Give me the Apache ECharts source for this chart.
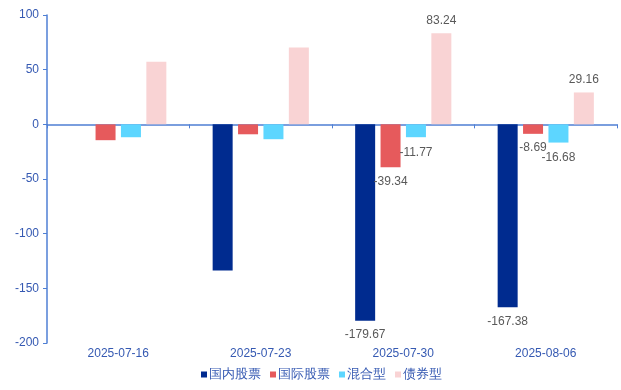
<!DOCTYPE html>
<html>
<head>
<meta charset="utf-8">
<script src="https://cdn.jsdelivr.net/npm/echarts@6/dist/echarts.min.js"></script>
<style>
html,body{margin:0;padding:0;background:#fff;}
#c{width:621px;height:390px;}
</style>
</head>
<body>
<div id="c"></div>
<script>
const categories = ['2025-07-16', '2025-07-23', '2025-07-30', '2025-08-06'];
const domesticStock = [0, -133.6, -179.67, -167.38];
const intlStock = [-14.5, -9.1, -39.34, -8.69];
const mixed = [-11.8, -13.6, -11.77, -16.68];
const bond = [57.3, 70.3, 83.24, 29.16];
const seriesNames = ['国内股票', '国际股票', '混合型', '债券型'];
const yTicks = { min: -200, max: 100, interval: 50 };
const labeledCategories = ['2025-07-30', '2025-08-06'];

const colors = ['#002B8F', '#E65A5C', '#5DD6FF', '#F9D3D4'];
const font = 'Liberation Sans, Arial, sans-serif';

function mk(name, data, color, pos, dist) {
  return {
    name: name,
    type: 'bar',
    data: data.map((v, i) => ({
      value: v,
      label: { show: labeledCategories.includes(categories[i]) }
    })),
    barWidth: 20,
    barGap: '27%',
    itemStyle: { color: color },
    label: {
      position: pos,
      distance: dist,
      color: '#595959',
      fontSize: 12,
      fontFamily: font,
      formatter: p => p.value.toFixed(2)
    }
  };
}

const chart = echarts.init(document.getElementById('c'), null, { renderer: 'canvas' });
chart.setOption({
  animation: false,
  backgroundColor: '#fff',
  grid: { left: 47, right: 4, top: 15, bottom: 47, containLabel: false },
  legend: {
    bottom: 4,
    left: 196,
    itemWidth: 6,
    itemHeight: 6,
    itemGap: 9,
    icon: 'rect',
    textStyle: { color: '#3559B2', fontSize: 13, fontFamily: font, padding: [0, 0, 0, -3] },
    data: seriesNames
  },
  xAxis: [
    {
      type: 'category',
      data: categories,
      position: 'bottom',
      axisLine: { onZero: true, lineStyle: { color: '#4F7FD4', width: 1.5 } },
      axisTick: { show: true, length: 4, lineStyle: { color: '#4F7FD4' } },
      axisLabel: { show: false }
    },
    {
      type: 'category',
      data: categories,
      position: 'bottom',
      axisLine: { show: false, onZero: false },
      axisTick: { show: false },
      axisLabel: { show: true, color: '#3559B2', fontSize: 12, fontFamily: font, margin: 5 }
    }
  ],
  yAxis: {
    type: 'value',
    min: yTicks.min,
    max: yTicks.max,
    interval: yTicks.interval,
    splitLine: { show: false },
    axisLine: { show: true, lineStyle: { color: '#4F7FD4', width: 1.5 } },
    axisTick: { show: true, length: 4, lineStyle: { color: '#4F7FD4' } },
    axisLabel: { color: '#3559B2', fontSize: 12, fontFamily: font, margin: 8 }
  },
  series: [
    mk(seriesNames[0], domesticStock, colors[0], 'bottom', 8),
    mk(seriesNames[1], intlStock, colors[1], 'bottom', 8),
    mk(seriesNames[2], mixed, colors[2], 'bottom', 9),
    mk(seriesNames[3], bond, colors[3], 'top', 7)
  ]
});
</script>
</body>
</html>
